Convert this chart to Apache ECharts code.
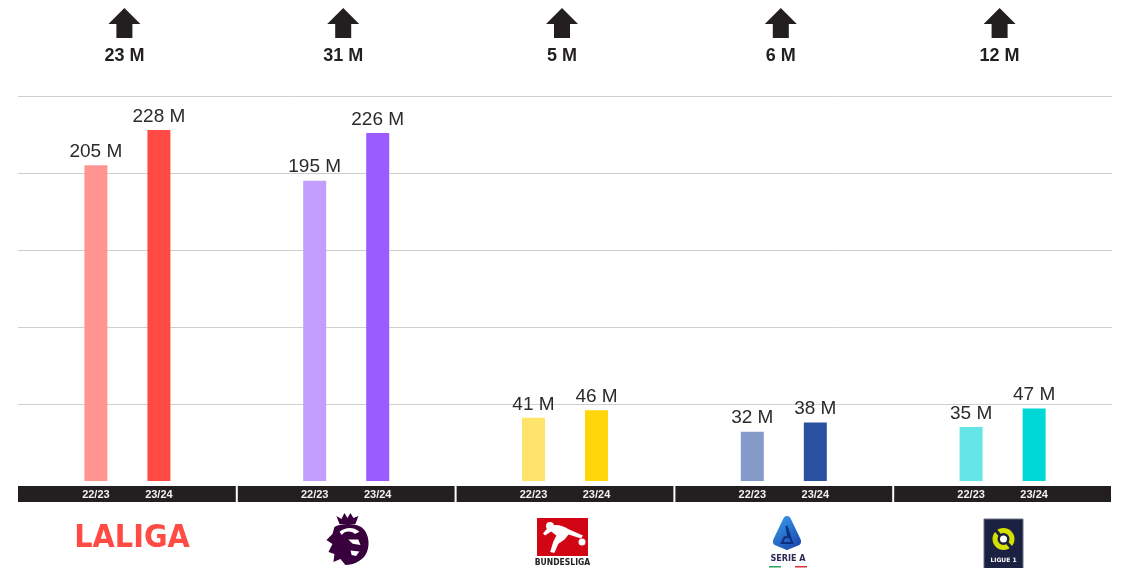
<!DOCTYPE html>
<html>
<head>
<meta charset="utf-8">
<script src="https://cdn.jsdelivr.net/npm/echarts@6/dist/echarts.min.js"></script>
<style>html,body{margin:0;padding:0;background:#fff}#c{width:1125px;height:568px}</style>
</head>
<body>
<div id="c"></div>
<script>
// ---- data ----
const leagues = ['LALIGA', 'Premier League', 'Bundesliga', 'Serie A', 'Ligue 1'];
const seasons = ['22/23', '23/24'];
const values2223 = [205, 195, 41, 32, 35];
const values2324 = [228, 226, 46, 38, 47];
const growth = [23, 31, 5, 6, 12];
const yTicks = [0, 50, 100, 150, 200, 250];

// ---- styles ----
const colPrev = ['#ff9490', '#c29fff', '#ffe36a', '#849bca', '#66e5e6'];
const colCurr = ['#ff4b44', '#9b5cff', '#ffd60a', '#2a50a0', '#00d8d8'];
const FONT = '"Liberation Sans", Arial, sans-serif';

const chart = echarts.init(document.getElementById('c'), null, {renderer: 'canvas'});

function arrow(x, y) {
  return {
    type: 'polygon',
    shape: {points: [[x, y], [x + 16, y + 16], [x + 8, y + 16], [x + 8, y + 30], [x - 8, y + 30], [x - 8, y + 16], [x - 16, y + 16]]},
    style: {fill: '#231f20'}
  };
}

function logo(i, cx, y) {
  const els = [];
  if (i === 0) {
    els.push({type: 'text', style: {text: 'LALIGA', x: cx, y: y + 33, align: 'center', verticalAlign: 'middle',
      font: 'bold 32px "DejaVu Sans Condensed", "Liberation Sans Narrow", Roboto, sans-serif', fill: '#ff4b44'}});
  } else if (i === 1) {
    const ox = cx - 22, oy = y + 7;
    els.push({type: 'path', shape: {pathData:
      'M14 11 L11 3 L16 6 L19 0 L22 5 L25 0 L28 5 L33 3 L30 11 Z ' +
      'M9 14 C15 10 31 10 37 15 C44 21 45 34 40 42 C36 48 28 52 20 52 L15 46 L8 49 L9 41 L3 39 L7 31 L1 27 L7 21 Z',
      x: ox, y: oy, width: 45, height: 52}, style: {fill: '#38003c'}});
    els.push({type: 'path', shape: {pathData: 'M16 20 C22 15 30 16 34 20 L30 22 C26 19 21 19 18 23 Z M24 27 L33 27 L35 32 L28 31 Z M26 37 L34 38 L31 42 L27 41 Z',
      x: ox + 14, y: oy + 15, width: 22, height: 28}, style: {fill: '#ffffff'}});
  } else if (i === 2) {
    const x0 = cx - 25, y0 = y + 12;
    els.push({type: 'rect', shape: {x: x0, y: y0, width: 51, height: 38}, style: {fill: '#d20515'}});
    els.push({type: 'circle', shape: {cx: x0 + 13, cy: y0 + 8, r: 4}, style: {fill: '#fff'}});
    els.push({type: 'path', shape: {pathData: 'M6 14 C12 10 20 12 26 16 L40 22 L38 25 L26 21 L22 26 L16 30 L12 39 L8 38 L11 28 L14 22 L9 18 L3 22 L1 20 Z',
      x: x0 + 6, y: y0 + 6, width: 40, height: 30}, style: {fill: '#fff'}});
    els.push({type: 'circle', shape: {cx: x0 + 45, cy: y0 + 24, r: 3.5}, style: {fill: '#fff'}});
    els.push({type: 'text', style: {text: 'BUNDESLIGA', x: cx + 0.5, y: y + 57, align: 'center', verticalAlign: 'middle',
      font: 'bold 8.5px "DejaVu Sans Condensed", Arial, sans-serif', fill: '#222'}});
  } else if (i === 3) {
    els.push({type: 'path', shape: {pathData: 'M15 0 C17 0 18 1 19 3 L29 24 C30 27 29 29 27 30 L17 34 C16 35 14 35 13 34 L3 30 C1 29 0 27 1 24 L11 3 C12 1 13 0 15 0 Z',
      x: cx - 15, y: y + 10, width: 30, height: 34},
      style: {fill: new echarts.graphic.LinearGradient(0, 0, 1, 1, [{offset: 0, color: '#3aa0f0'}, {offset: 1, color: '#1840a8'}])}});
    els.push({type: 'path', shape: {pathData: 'M15 8 L21 26 L10 26 L13 20 L17 20 Z', x: cx - 6, y: y + 20, width: 12, height: 17},
      style: {fill: 'none', stroke: '#0d2f80', lineWidth: 2}});
    els.push({type: 'text', style: {text: 'SERIE A', x: cx + 1, y: y + 53, align: 'center', verticalAlign: 'middle',
      font: 'bold 9px "DejaVu Sans Condensed", Arial, sans-serif', fill: '#2b2b55'}});
    els.push({type: 'rect', shape: {x: cx - 18, y: y + 60, width: 12, height: 1.5}, style: {fill: '#2aa35a'}});
    els.push({type: 'rect', shape: {x: cx + 8, y: y + 60, width: 12, height: 1.5}, style: {fill: '#d8323c'}});
  } else if (i === 4) {
    const x0 = cx - 19, y0 = y + 13;
    els.push({type: 'rect', shape: {x: x0, y: y0, width: 39, height: 50}, style: {fill: '#1b2140', stroke: '#6a7080', lineWidth: 1}});
    els.push({type: 'ring', shape: {cx: cx + 0.5, cy: y0 + 20, r: 11, r0: 6}, style: {fill: '#d3e000'}});
    els.push({type: 'polygon', shape: {points: [[cx - 12, y0 + 8], [cx - 8, y0 + 8], [cx + 2, y0 + 20], [cx - 2, y0 + 20]]}, style: {fill: '#1b2140'}});
    els.push({type: 'polygon', shape: {points: [[cx + 13, y0 + 32], [cx + 9, y0 + 32], [cx - 1, y0 + 20], [cx + 3, y0 + 20]]}, style: {fill: '#1b2140'}});
    els.push({type: 'circle', shape: {cx: cx + 0.5, cy: y0 + 20, r: 3.5}, style: {fill: '#ffffff'}});
    els.push({type: 'text', style: {text: 'LIGUE 1', x: cx + 0.5, y: y0 + 41, align: 'center', verticalAlign: 'middle',
      font: 'bold 6px "DejaVu Sans", Arial, sans-serif', fill: '#ffffff'}});
  }
  return els;
}

const decoData = leagues.map((_, i) => [i, 0]);

const option = {
  animation: false,
  backgroundColor: '#ffffff',
  grid: {left: 18, right: 13, top: 96, bottom: 87},
  xAxis: {
    type: 'category', data: leagues,
    axisLine: {show: false}, axisTick: {show: false}, axisLabel: {show: false}, splitLine: {show: false}
  },
  yAxis: {
    type: 'value', min: yTicks[0], max: yTicks[yTicks.length - 1], interval: 50,
    axisLine: {show: false}, axisTick: {show: false}, axisLabel: {show: false},
    splitLine: {show: true, lineStyle: {color: ['rgba(0,0,0,0)', '#cfcfcf', '#cfcfcf', '#cfcfcf', '#cfcfcf', '#cfcfcf'], width: 1}}
  },
  series: [
    {
      name: seasons[0], type: 'bar', barWidth: 23, barGap: '174%',
      data: values2223.map((v, i) => ({value: v, itemStyle: {color: colPrev[i]}})),
      label: {show: true, position: 'top', distance: 4, formatter: '{c} M', fontFamily: FONT, fontSize: 19, color: '#2b2b2b'}
    },
    {
      name: seasons[1], type: 'bar', barWidth: 23, barGap: '174%',
      data: values2324.map((v, i) => ({value: v, itemStyle: {color: colCurr[i]}})),
      label: {show: true, position: 'top', distance: 4, formatter: '{c} M', fontFamily: FONT, fontSize: 19, color: '#2b2b2b'}
    },
    {
      type: 'custom', clip: false, silent: true, z: 5,
      data: decoData,
      encode: {x: 0, y: 1},
      renderItem: function (params, api) {
        const idx = api.value(0);
        const c = api.coord([idx, 0]);
        const bw = api.size([1, 0])[0];
        const cx = c[0], base = c[1];
        const topY = api.coord([idx, yTicks[yTicks.length - 1]])[1];
        const children = [];
        children.push({type: 'rect', shape: {x: cx - bw / 2 + (idx === 0 ? 0 : 1), y: base + 5, width: bw - (idx === 0 ? 1 : 2), height: 16}, style: {fill: '#231f20'}});
        [-31.5, 31.5].forEach((off, k) => {
          children.push({type: 'text', style: {text: seasons[k], x: cx + off, y: base + 14, align: 'center', verticalAlign: 'middle',
            font: 'bold 11px ' + FONT, fill: '#f2f2f2'}});
        });
        children.push(arrow(cx - 3, topY - 88));
        children.push({type: 'text', style: {text: growth[idx] + ' M', x: cx - 3, y: topY - 40, align: 'center', verticalAlign: 'middle',
          font: 'bold 18px ' + FONT, fill: '#231f20'}});
        const logoX = [132, 347, 562, 787, 1003];
        logo(idx, cx + (logoX[idx] - (18 + 1094 / 10 * (2 * idx + 1))), base + 25).forEach(e => children.push(e));
        return {type: 'group', children: children};
      }
    }
  ]
};
chart.setOption(option);
</script>
</body>
</html>
